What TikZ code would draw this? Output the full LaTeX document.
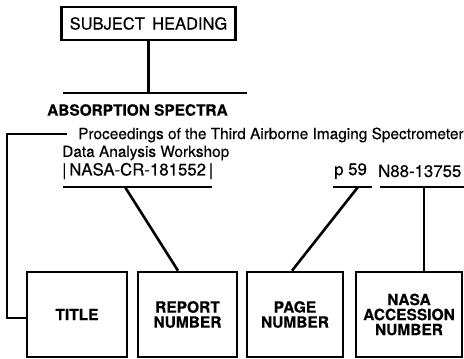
\documentclass[tikz,border=0pt]{standalone}
\usepackage{fontspec}
\setmainfont{TeX Gyre Heros}[FakeBold=0.4]
\newfontfamily\regfont{TeX Gyre Heros}[FakeBold=0.4]
\begin{document}
\begin{tikzpicture}[x=1pt,y=-1pt,
  ln/.style={line width=2.6pt},
  bx/.style={draw,line width=2.6pt,inner sep=0pt,minimum height=85pt,align=center,font=\fontsize{15.5}{15}\selectfont\bfseries},
  txt/.style={inner sep=0pt,anchor=west,font=\fontsize{15.4}{17}\selectfont\regfont},
  num/.style={inner sep=0pt,anchor=west,font=\fontsize{16.8}{17}\selectfont\regfont}]
\useasboundingbox (0,0) rectangle (464,359);
% subject heading
\node[draw,line width=2.6pt,minimum width=174pt,minimum height=33pt,inner sep=0pt,font=\fontsize{16.5}{16}\selectfont\regfont] (subj) at (148.5,23.5) {SUBJECT\ \,HEADING};
\coordinate (sbL) at (63,93);
\coordinate (sbR) at (247,93);
\coordinate (sbM) at (148.5,93);
\draw[ln] (sbL) -- (sbR);
\draw[ln] (subj.south) -- (sbM);
\node[txt,font=\fontsize{15.4}{15}\selectfont\bfseries] (abs) at (47,110) {ABSORPTION SPECTRA};
% citation text
\node[txt] (proc) at (78,135) {Proceedings of the Third Airborne Imaging Spectrometer};
\node[txt] (data) at (62,153) {Data Analysis Workshop};
\node[num] (rep) at (62,171) {|\,NASA-CR-181552\,|};
\node[num] (pg) at (334,171) {p 59};
\node[num] (acc) at (378,171) {N88-13755};
% boxes
\node[bx,minimum width=100pt] (title) at (77,314.5) {TITLE};
\node[bx,minimum width=99pt] (report) at (187.5,314.5) {REPORT\\NUMBER};
\node[bx,minimum width=96pt] (page) at (295,314.5) {PAGE\\NUMBER};
\node[bx,minimum width=106pt] (nasa) at (409,314.5) {NASA\\ACCESSION\\NUMBER};
% title connector
\coordinate (tA) at (67,134);
\coordinate (tB) at (7,134);
\coordinate (tC) at (7,318);
\draw[ln] (tA) -- (tB) -- (tC) -- (tC -| title.west);
% report connector
\coordinate (rL) at (63,187);
\coordinate (rR) at (212,187);
\coordinate (rM) at (125,187);
\draw[ln] (rL) -- (rR);
\draw[ln] (rM) -- (report.north -| 178,0);
% page connector
\coordinate (pL) at (333,187);
\coordinate (pR) at (372,187);
\coordinate (pM) at (358,187);
\draw[ln] (pL) -- (pR);
\draw[ln] (pM) -- (page.north -| 292,0);
% accession connector
\coordinate (aL) at (380,187);
\coordinate (aR) at (464,187);
\coordinate (aM) at (424,187);
\draw[ln] (aL) -- (aR);
\draw[ln] (aM) -- (nasa.north -| aM);
\end{tikzpicture}
\end{document}
